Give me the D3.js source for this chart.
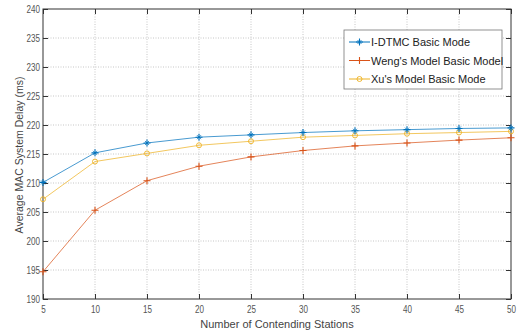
<!DOCTYPE html>
<html>
<head>
<meta charset="utf-8">
<script src="https://cdn.jsdelivr.net/npm/d3@7"></script>
<style>
  body { margin: 0; background: #fff; }
  svg text { font-family: "Liberation Sans", Arial, sans-serif; }
</style>
</head>
<body>
<svg id="chart" width="518" height="335"></svg>
<script>
const stations = [5, 10, 15, 20, 25, 30, 35, 40, 45, 50];
const idtmc = [210.1, 215.2, 216.9, 217.9, 218.3, 218.7, 219.0, 219.2, 219.4, 219.5];
const weng = [194.7, 205.3, 210.4, 212.9, 214.5, 215.6, 216.4, 216.9, 217.4, 217.8];
const xu = [207.2, 213.7, 215.1, 216.5, 217.2, 217.9, 218.2, 218.5, 218.7, 218.9];
const yTicks = [190, 195, 200, 205, 210, 215, 220, 225, 230, 235, 240];
const seriesNames = ["I-DTMC Basic Mode", "Weng's Model Basic Model", "Xu's Model Basic Mode"];

const Chart = {
    frame: { left: 43, right: 511, top: 9, bottom: 299 },
    colors: ["#0072BD", "#D95319", "#EDB120"],

    init() {
        const f = this.frame;
        this.svg = d3.select("#chart");
        this.x = d3.scaleLinear().domain([5, 50]).range([f.left, f.right]);
        this.y = d3.scaleLinear().domain([190, 240]).range([f.bottom, f.top]);
        this.drawGrid();
        this.drawAxes();
        this.drawSeries();
        this.drawLegend();
    },

    drawGrid() {
        const f = this.frame;
        const g = this.svg.append("g").attr("stroke", "#b8b8b8")
            .attr("stroke-width", 0.8).attr("stroke-dasharray", "1,1.5");
        g.selectAll(".gx").data(stations.slice(1, -1)).enter().append("line")
            .attr("x1", d => this.x(d)).attr("x2", d => this.x(d))
            .attr("y1", f.top).attr("y2", f.bottom);
        g.selectAll(".gy").data(yTicks.slice(1, -1)).enter().append("line")
            .attr("y1", d => this.y(d)).attr("y2", d => this.y(d))
            .attr("x1", f.left).attr("x2", f.right);
    },

    drawAxes() {
        const f = this.frame;
        // tick labels in the original are condensed, so squeeze them a little
        const style = sel => {
            sel.select(".domain").remove();
            sel.selectAll("line").attr("stroke", "#333");
            sel.selectAll("text").attr("fill", "#555").attr("font-size", 10.5)
                .attr("lengthAdjust", "spacingAndGlyphs")
                .attr("textLength", function () { return this.textContent.length * 4.5; });
        };
        this.svg.append("g").attr("transform", `translate(0,${f.bottom})`)
            .call(d3.axisBottom(this.x).tickValues(stations).tickSizeInner(-5).tickSizeOuter(0).tickPadding(7))
            .call(style);
        this.svg.append("g").attr("transform", `translate(0,${f.top})`)
            .call(d3.axisTop(this.x).tickValues(stations).tickSizeInner(-5).tickSizeOuter(0).tickFormat(""))
            .call(style);
        this.svg.append("g").attr("transform", `translate(${f.left},0)`)
            .call(d3.axisLeft(this.y).tickValues(yTicks).tickSizeInner(-5).tickSizeOuter(0).tickPadding(3))
            .call(style);
        this.svg.append("g").attr("transform", `translate(${f.right},0)`)
            .call(d3.axisRight(this.y).tickValues(yTicks).tickSizeInner(-5).tickSizeOuter(0).tickFormat(""))
            .call(style);
        this.svg.append("rect")
            .attr("x", f.left).attr("y", f.top)
            .attr("width", f.right - f.left).attr("height", f.bottom - f.top)
            .attr("fill", "none").attr("stroke", "#333").attr("stroke-width", 1);

        this.svg.append("text")
            .attr("x", (f.left + f.right) / 2).attr("y", 328)
            .attr("text-anchor", "middle").attr("font-size", 11).attr("fill", "#444")
            .text("Number of Contending Stations");
        this.svg.append("text")
            .attr("transform", `translate(23,155) rotate(-90)`)
            .attr("text-anchor", "middle").attr("font-size", 10.5).attr("fill", "#444")
            .text("Average MAC System Delay (ms)");
    },

    marker(g, type, color) {
        if (type === 2) {
            g.append("circle").attr("r", 2.5).attr("fill", "none")
                .attr("stroke", color).attr("stroke-width", 0.9);
        } else {
            g.append("path").attr("d", "M-3.5,0H3.5M0,-3.5V3.5")
                .attr("stroke", color).attr("stroke-width", 1.1);
            if (type === 0) {
                g.append("path").attr("d", "M-2,-2L2,2M-2,2L2,-2")
                    .attr("stroke", color).attr("stroke-width", 0.8);
            }
        }
    },

    drawSeries() {
        const data = [idtmc, weng, xu];
        const line = d3.line().x((d, i) => this.x(stations[i])).y(d => this.y(d));
        const order = [1, 2, 0];
        order.forEach(k => {
            const color = this.colors[k];
            this.svg.append("path").datum(data[k])
                .attr("d", line).attr("fill", "none")
                .attr("stroke", color).attr("stroke-width", 0.9).attr("stroke-opacity", 0.8);
            data[k].forEach((v, i) => {
                const g = this.svg.append("g")
                    .attr("transform", `translate(${this.x(stations[i])},${this.y(v)})`);
                this.marker(g, k, color);
            });
        });
    },

    drawLegend() {
        const lg = this.svg.append("g").attr("transform", "translate(344,30)");
        lg.append("rect").attr("width", 158).attr("height", 59)
            .attr("fill", "#fff").attr("stroke", "#777").attr("stroke-width", 0.8);
        seriesNames.forEach((name, k) => {
            const yy = 12 + k * 18.5;
            const color = this.colors[k];
            lg.append("line").attr("x1", 5).attr("x2", 26).attr("y1", yy).attr("y2", yy)
                .attr("stroke", color).attr("stroke-width", 1);
            const m = lg.append("g").attr("transform", `translate(15.5,${yy})`);
            this.marker(m, k, color);
            lg.append("text").attr("x", 27).attr("y", yy + 4)
                .attr("font-size", 11).attr("fill", "#222").text(name);
        });
    }
};

Chart.init();
</script>
</body>
</html>
